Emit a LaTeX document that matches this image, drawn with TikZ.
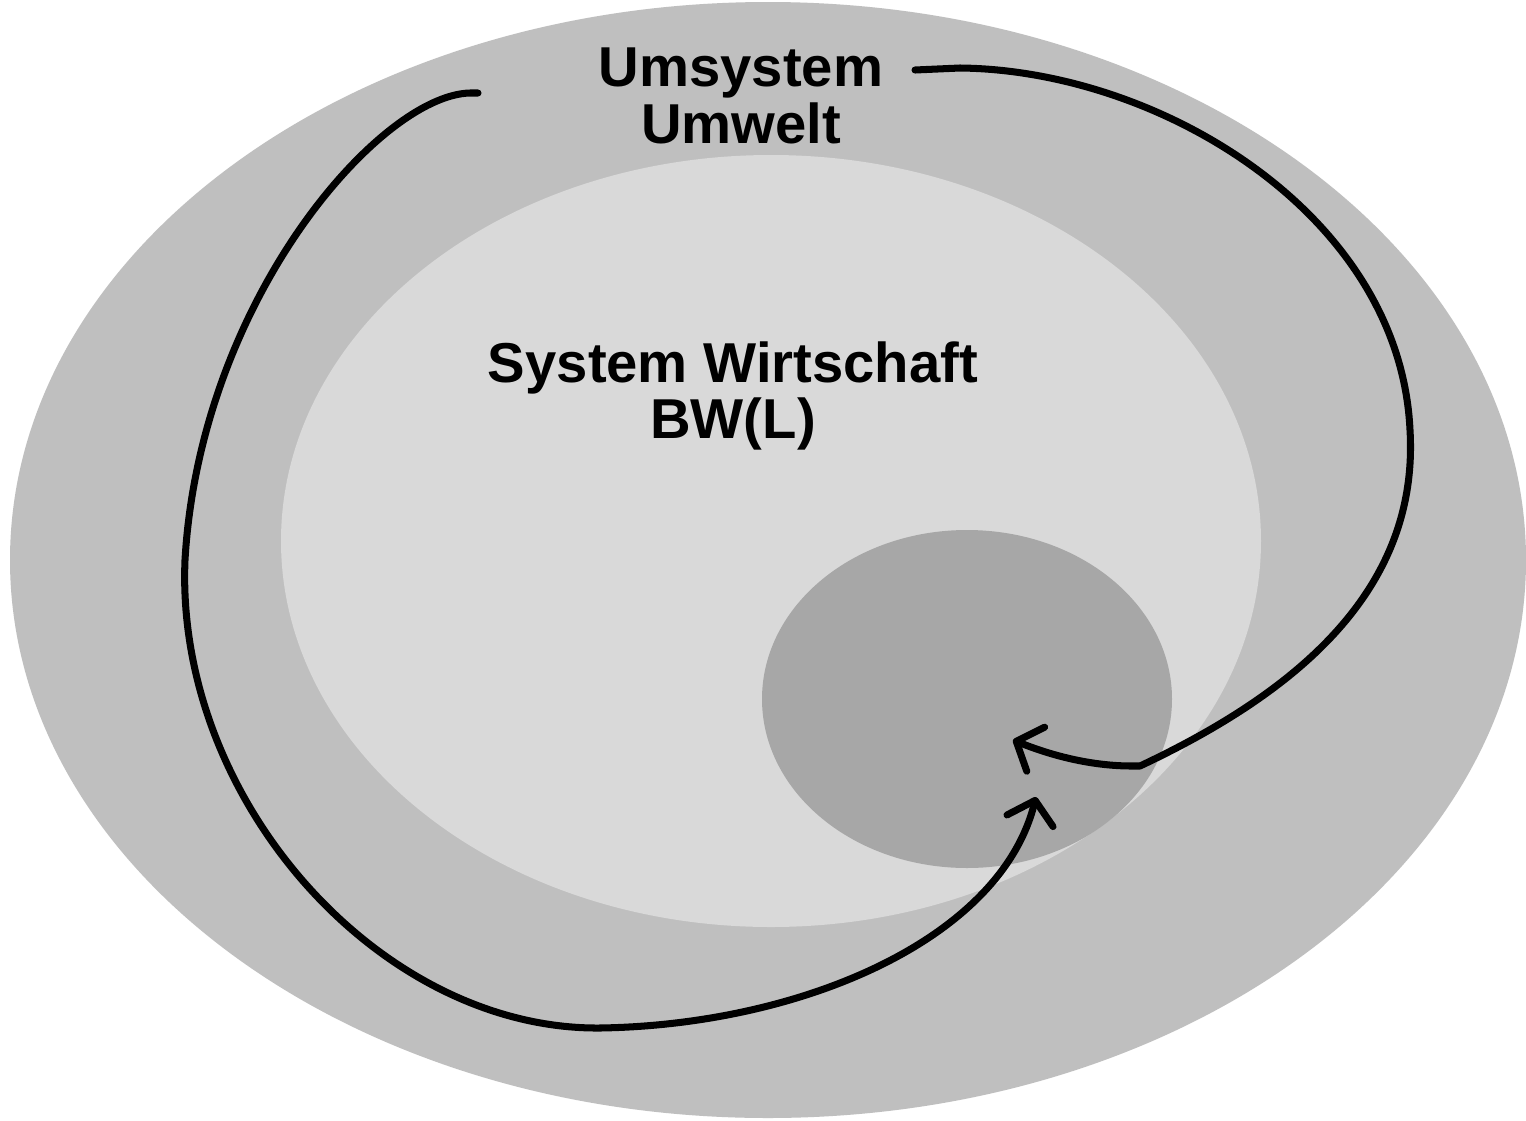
\documentclass[tikz,border=0pt]{standalone}
\usepackage{fontspec}
\setmainfont{Liberation Sans}
\usetikzlibrary{arrows.meta}
\definecolor{outerg}{HTML}{BFBFBF}
\definecolor{midg}{HTML}{D9D9D9}
\definecolor{innerg}{HTML}{A7A7A7}
\tikzset{
  lbl/.style={font=\fontsize{32}{32}\selectfont\bfseries, align=center, inner sep=0pt},
  flow/.style={line width=4pt, line cap=round, line join=round,
    -{Straight Barb[length=0.42cm, width=0.95cm, line width=4pt, round]}}
}
\begin{document}
\begin{tikzpicture}[x=0.02cm, y=-0.02cm]
\useasboundingbox (0,0) rectangle (1526,1120);
\fill[white] (0,0) rectangle (1526,1120);
% ellipses
\fill[outerg] (768,560) ellipse [x radius=758, y radius=558];
\fill[midg] (771,541) ellipse [x radius=490, y radius=386];
\fill[innerg] (967,699) ellipse [x radius=205, y radius=169];
% labels
\node[lbl] (umwelt) at (741,96) {Umsystem\\Umwelt};
\node[lbl] (system) at (733,396) {System Wirtschaft\\BW(L)};
% connector endpoints
\coordinate (s1) at (478,93);
\coordinate (s2) at (915,70);
\coordinate (t1) at (1036,797);
\coordinate (t2) at (1013,740);
% left loop
\draw[flow] (s1) -- (470,93) .. controls (380,95) and (200,300) .. (185,560)
  .. controls (175,800) and (380,1030) .. (600,1028)
  .. controls (800,1025) and (1000,940) .. (t1);
% right loop
\draw[flow] (s2) -- (960,68) .. controls (1160,70) and (1400,215) .. (1410,430)
  .. controls (1420,600) and (1280,700) .. (1140,766)
  -- (1132,766) .. controls (1090,766) and (1050,755) .. (t2);
\end{tikzpicture}
\end{document}
